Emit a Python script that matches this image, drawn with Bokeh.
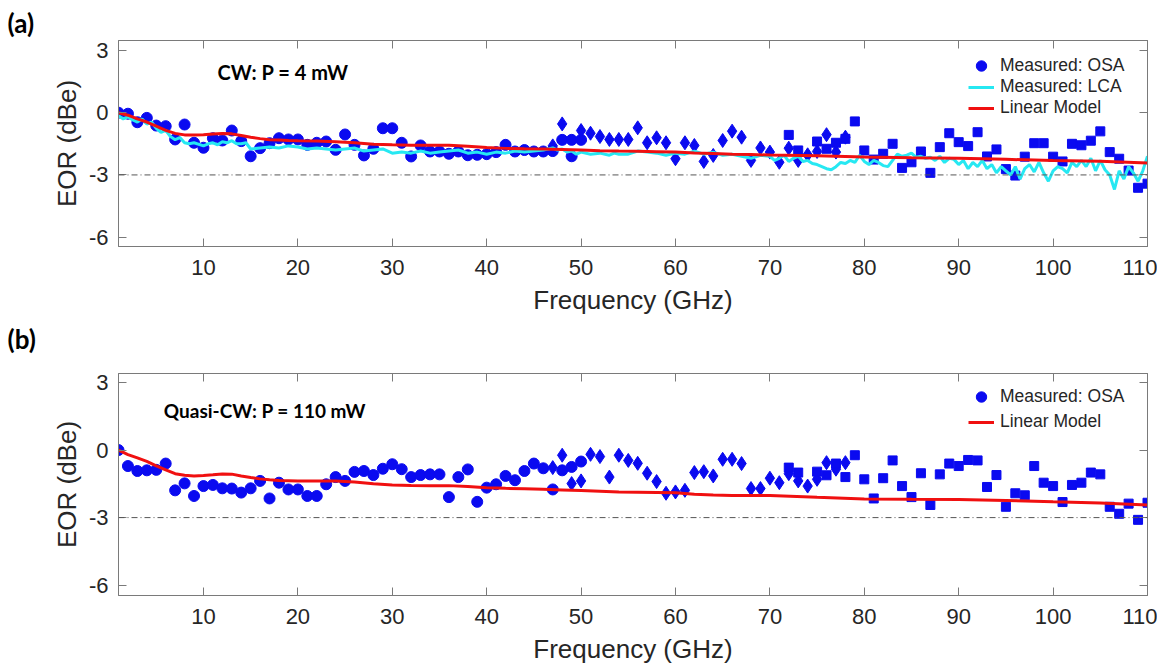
from bokeh.plotting import figure
from bokeh.models import (Range1d, FixedTicker, LinearAxis, Span, Label, Legend,
                          LegendItem, Title)
from bokeh.layouts import column
from bokeh.embed import file_html
from bokeh.resources import INLINE

# ---------------- data : panel (a) CW, P = 4 mW ----------------
A_CIRC_F = [1, 2, 3, 4, 5, 6, 7, 8, 9, 10, 11, 12, 13, 14, 15, 16, 17, 18, 19, 20,
            21, 22, 23, 24, 25, 26, 27, 28, 29, 30, 31, 32, 33, 34, 35, 36, 37, 38, 39, 40,
            41, 42, 43, 44, 45, 46, 47, 48, 49, 50, 49]
A_CIRC_V = [0.0, -0.05, -0.46, -0.25, -0.62, -0.65, -1.29, -0.57, -1.45, -1.69,
            -1.23, -1.34, -0.86, -1.37, -2.10, -1.71, -1.47, -1.23, -1.29, -1.29,
            -1.55, -1.45, -1.39, -1.79, -1.05, -1.55, -2.06, -1.74, -0.75, -0.75,
            -1.45, -2.11, -1.58, -1.87, -1.87, -1.98, -1.87, -2.05, -2.03, -2.00,
            -1.90, -1.55, -1.87, -1.80, -1.87, -1.87, -1.85, -1.31, -1.31, -1.31, -2.10]
A_DIAM_F = [47, 48, 50, 51, 52, 53, 54, 55, 56, 57, 58, 59, 60, 61, 62, 63, 64, 65, 66, 67,
            68, 69, 70, 71, 72, 73, 74, 75, 76, 77, 78]
A_DIAM_V = [-1.60, -0.54, -0.86, -0.99, -1.15, -1.29, -1.29, -1.29, -0.73, -1.45,
            -1.21, -1.45, -2.22, -1.45, -1.58, -2.35, -2.06, -1.34, -0.89, -1.18,
            -2.30, -1.70, -1.90, -2.39, -1.71, -2.30, -2.03, -1.87, -1.06, -1.90, -1.18]
A_SQ_F = [72, 73, 75, 76, 77, 78, 79, 80, 81, 82, 83, 84, 85, 86, 87, 88, 89, 90, 91, 92,
          93, 94, 95, 96, 97, 98, 99, 100, 101, 102, 103, 104, 105, 106, 107, 108, 109, 110]
A_SQ_V = [-1.07, -1.82, -1.39, -1.74, -1.45, -1.26, -0.42, -1.82, -2.26, -1.98,
          -1.50, -2.66, -2.39, -1.87, -2.90, -1.66, -0.99, -1.42, -1.61, -0.94,
          -2.11, -1.77, -2.72, -3.03, -2.12, -1.47, -1.47, -2.12, -2.35, -1.50,
          -1.57, -1.35, -0.90, -1.90, -2.22, -2.79, -3.62, -3.42]
A_LCA_F = [1, 1.5, 2, 2.5, 3, 3.5, 4, 4.5, 5, 5.5, 6, 6.5, 7, 7.5, 8, 8.5, 9, 10, 10.5, 11,
           11.5, 12, 12.5, 13, 13.5, 14, 14.5, 15, 16, 17, 18, 19, 20, 21, 22, 23, 24, 25,
           26, 27, 28, 29, 30, 31, 32, 33, 34, 35, 36, 37, 38, 39, 40, 41, 42, 43, 44, 45,
           46, 47, 47.5, 48, 48.5, 49, 49.5, 50, 51, 52, 53, 53.5, 54, 55, 56, 57, 58, 59,
           60, 61, 62, 63, 64, 65, 66, 67, 68, 69, 70, 70.5, 71, 71.5, 72, 72.5, 73, 73.5,
           74, 74.5, 75, 75.5, 76, 76.5, 77, 77.5, 78, 78.5, 79, 79.5, 80, 80.5, 81, 81.5,
           82, 82.5, 83, 83.5, 84, 84.5, 85, 85.5, 86, 86.5, 87, 87.5, 88, 88.5, 89, 89.5,
           90, 90.5, 91, 91.5, 92, 92.5, 93, 93.5, 94, 94.5, 95, 95.5, 96, 96.5, 97, 97.5,
           98, 98.5, 99, 99.5, 100, 100.5, 101, 101.5, 102, 102.5, 103, 103.5, 104, 104.5,
           105, 105.5, 106, 106.5, 107, 107.5, 108, 108.5, 109, 109.5, 110]
A_LCA_V = [-0.15, -0.30, -0.20, -0.35, -0.45, -0.30, -0.55, -0.45, -0.75, -0.95,
           -0.85, -1.15, -1.30, -1.20, -1.45, -1.50, -1.45, -1.60, -1.50, -1.45,
           -1.55, -1.40, -1.45, -1.35, -1.50, -1.50, -1.45, -1.75, -1.70, -1.65,
           -1.70, -1.60, -1.65, -1.75, -1.70, -1.75, -1.80, -1.75, -1.70, -1.85,
           -1.80, -1.75, -1.95, -1.90, -1.95, -1.85, -1.95, -1.90, -1.85, -1.80,
           -1.95, -1.90, -2.00, -1.90, -1.95, -1.85, -1.90, -1.85, -1.80, -1.70,
           -1.80, -1.75, -1.90, -1.85, -2.00, -1.90, -2.00, -1.95, -2.05, -1.95,
           -2.00, -2.00, -1.85, -1.90, -1.95, -2.05, -1.95, -2.00, -1.85, -2.00,
           -1.90, -2.05, -2.00, -2.10, -2.20, -2.05, -2.10, -2.30, -2.20, -2.05,
           -2.35, -2.20, -2.10, -2.35, -2.30, -2.45, -2.50, -2.60, -2.70, -2.75,
           -2.60, -2.40, -2.45, -2.30, -2.40, -2.05, -2.35, -2.50, -2.30, -2.40,
           -2.55, -2.60, -2.30, -2.00, -2.10, -2.05, -1.95, -2.15, -2.10, -2.20,
           -2.15, -2.30, -2.10, -2.40, -2.20, -2.25, -2.50, -2.30, -2.70, -2.40,
           -2.60, -2.30, -2.70, -2.50, -2.90, -2.60, -2.80, -3.00, -2.60, -3.20,
           -2.70, -2.50, -2.85, -2.40, -2.90, -3.30, -2.80, -2.60, -2.70, -2.90,
           -2.40, -2.60, -2.30, -2.60, -2.20, -2.80, -2.30, -2.75, -3.00, -3.70,
           -2.80, -3.20, -2.60, -2.90, -3.30, -2.80, -2.10]
A_MODEL_F = [1, 2, 3, 4, 5, 6, 7, 8, 9, 10, 11, 12, 13, 14, 15, 16, 17, 18, 19, 20, 22, 24,
             26, 28, 30, 32, 34, 36, 38, 40, 42, 44, 46, 48, 50, 52, 54, 56, 58, 60, 62, 64,
             66, 68, 70, 75, 80, 85, 90, 95, 100, 105, 110]
A_MODEL_V = [0.0, -0.12, -0.30, -0.45, -0.65, -0.85, -1.00, -1.07, -1.08, -1.06,
             -1.03, -1.00, -1.02, -1.10, -1.18, -1.25, -1.30, -1.32, -1.34, -1.35,
             -1.36, -1.40, -1.45, -1.52, -1.55, -1.57, -1.57, -1.57, -1.62, -1.68,
             -1.72, -1.74, -1.75, -1.77, -1.80, -1.83, -1.85, -1.86, -1.88, -1.90,
             -1.94, -1.97, -2.00, -2.02, -2.04, -2.08, -2.13, -2.17, -2.20, -2.25,
             -2.30, -2.34, -2.42]

# ---------------- data : panel (b) Quasi-CW, P = 110 mW ----------------
B_CIRC_F = [1, 2, 3, 4, 5, 6, 7, 8, 9, 10, 11, 12, 13, 14, 15, 16, 17, 18, 19, 20,
            21, 22, 23, 24, 25, 26, 27, 28, 29, 30, 31, 32, 33, 34, 35, 36, 37, 38, 39, 40,
            41, 42, 43, 44, 45, 46, 47, 48, 49, 50]
B_CIRC_V = [0.0, -0.71, -0.93, -0.90, -0.88, -0.60, -1.79, -1.48, -2.04, -1.60,
            -1.55, -1.70, -1.71, -1.89, -1.70, -1.37, -2.15, -1.45, -1.75, -1.75,
            -2.04, -2.04, -1.52, -1.20, -1.37, -0.97, -0.93, -1.11, -0.83, -0.63,
            -0.85, -1.20, -1.11, -1.08, -1.08, -2.09, -1.20, -0.86, -2.30, -1.67,
            -1.52, -1.15, -1.34, -0.93, -0.60, -0.81, -1.75, -0.90, -0.75, -0.51]
B_DIAM_F = [47, 48, 49, 50, 51, 52, 53, 54, 55, 56, 57, 58, 59, 60, 61, 62, 63, 64, 65, 66,
            67, 68, 69, 70, 71, 72, 73, 74, 75, 76, 77, 78]
B_DIAM_V = [-0.78, -0.23, -1.49, -1.37, -0.19, -0.29, -1.20, -0.23, -0.46, -0.59,
            -1.03, -1.40, -1.92, -1.86, -1.79, -1.00, -0.96, -1.15, -0.41, -0.41,
            -0.60, -1.71, -1.71, -1.25, -1.45, -1.05, -1.37, -1.60, -1.30, -0.56,
            -0.85, -0.56]
B_SQ_F = [72, 73, 75, 76, 77, 78, 79, 80, 81, 82, 83, 84, 85, 86, 87, 88, 89, 90, 91, 92,
          93, 94, 95, 96, 97, 98, 99, 100, 101, 102, 103, 104, 105, 106, 107, 108, 109, 110]
B_SQ_V = [-0.78, -1.00, -0.96, -1.12, -0.60, -1.20, -0.23, -1.30, -2.15, -1.25,
          -0.46, -1.60, -2.09, -1.03, -2.44, -1.08, -0.60, -0.71, -0.44, -0.46,
          -1.64, -1.11, -2.52, -1.92, -2.01, -0.71, -1.45, -1.60, -2.31, -1.55,
          -1.45, -1.00, -1.08, -2.52, -2.83, -2.38, -3.10, -2.34]
B_MODEL_F = [1, 2, 3, 4, 5, 6, 7, 8, 9, 10, 11, 12, 13, 14, 15, 16, 17, 18, 20, 22, 24, 26,
             28, 30, 32, 34, 36, 38, 40, 42, 44, 46, 48, 50, 52, 54, 56, 58, 60, 62, 64, 66,
             68, 70, 75, 80, 85, 90, 95, 100, 105, 110]
B_MODEL_V = [0.0, -0.20, -0.35, -0.50, -0.70, -0.88, -1.05, -1.12, -1.15, -1.13,
             -1.10, -1.06, -1.07, -1.15, -1.22, -1.28, -1.32, -1.35, -1.37, -1.38,
             -1.38, -1.42, -1.50, -1.55, -1.57, -1.58, -1.58, -1.62, -1.67, -1.70,
             -1.72, -1.74, -1.77, -1.80, -1.83, -1.86, -1.87, -1.88, -1.90, -1.96,
             -2.00, -2.02, -2.02, -2.02, -2.10, -2.17, -2.19, -2.20, -2.24, -2.30,
             -2.35, -2.44]

X_TICKS = [10, 20, 30, 40, 50, 60, 70, 80, 90, 100, 110]
Y_TICKS = [-6, -3, 0, 3]
Y_TICK_LABELS = {-6: "-6", -3: "-3", 0: "0", 3: "3"}

BLUE = "#0a0af0"
CYAN = "#26e8f2"
RED = "#f01010"
AX = "#7a7a7a"
TXT = "#262626"
FONT = "Liberation Sans"


def panel_title(text, standoff, valign):
    t = Title(text=text, align="left", offset=-111, standoff=standoff,
              vertical_align=valign, text_font="Lato", text_font_style="bold",
              text_font_size="26px", text_color="black")
    return t


def make_fig(height, top, bottom, yr):
    p = figure(width=1157, height=height, x_range=Range1d(1, 110), y_range=Range1d(*yr),
               output_backend="svg", toolbar_location=None,
               min_border_left=118, min_border_right=10, min_border_top=top,
               min_border_bottom=bottom, x_axis_location=None, y_axis_location=None)
    p.xgrid.visible = False
    p.ygrid.visible = False
    p.outline_line_color = AX
    p.outline_line_width = 1
    p.background_fill_color = "white"
    p.border_fill_color = "white"

    xb = LinearAxis(ticker=FixedTicker(ticks=X_TICKS), axis_label="Frequency (GHz)")
    yl = LinearAxis(ticker=FixedTicker(ticks=Y_TICKS), axis_label="EOR (dBe)",
                    major_label_overrides=Y_TICK_LABELS)
    xt = LinearAxis(ticker=FixedTicker(ticks=X_TICKS),
                    major_label_overrides={t: "" for t in X_TICKS})
    yr_ax = LinearAxis(ticker=FixedTicker(ticks=Y_TICKS),
                       major_label_overrides={t: "" for t in Y_TICKS})
    for ax in (xb, yl, xt, yr_ax):
        ax.axis_line_color = AX
        ax.major_tick_line_color = AX
        ax.major_tick_in = 8
        ax.major_tick_out = 0
        ax.minor_tick_line_color = None
        ax.major_label_text_font = FONT
        ax.major_label_text_color = TXT
        ax.major_label_text_font_size = "22px"
        ax.axis_label_text_font = FONT
        ax.axis_label_text_font_size = "26px"
        ax.axis_label_text_font_style = "normal"
        ax.axis_label_text_color = TXT
    for ax in (xt, yr_ax):
        ax.major_label_text_font_size = "2px"
        ax.major_label_standoff = 0
    xb.major_label_standoff = 13
    xb.axis_label_standoff = 7
    yl.major_label_standoff = 10
    yl.axis_label_standoff = 4
    p.add_layout(xb, "below")
    p.add_layout(yl, "left")
    p.add_layout(xt, "above")
    p.add_layout(yr_ax, "right")

    p.add_layout(Span(location=-3, dimension="width", line_color="#555555",
                      line_width=1, line_dash="6 3 1 3"))
    return p


def markers(p, cf, cv, df, dv, sf, sv):
    rc = p.scatter(cf, cv, marker="circle", size=11, fill_color=BLUE, line_color=BLUE)
    p.scatter(df, dv, marker="diamond", size=14, fill_color=BLUE, line_color=BLUE)
    p.scatter(sf, sv, marker="square", size=9, fill_color=BLUE, line_color=BLUE)
    return rc


def make_legend(items, loc, glyph_h):
    lg = Legend(items=items, location=loc)
    lg.label_text_font = FONT
    lg.label_text_font_size = "17.5px"
    lg.label_text_color = TXT
    lg.border_line_alpha = 0
    lg.background_fill_alpha = 0
    lg.padding = 0
    lg.margin = 0
    lg.spacing = 0
    lg.glyph_width = 26
    lg.glyph_height = glyph_h
    lg.label_height = 18
    lg.label_standoff = 6
    return lg


# ---------- panel (a) ----------
pa = make_fig(368, 40, 122, (-6.45, 3.48))
pa.add_layout(panel_title("(a)", 4, "bottom"), "above")
pa.add_layout(panel_title("(b)", 10, "top"), "below")
rc_a = markers(pa, A_CIRC_F, A_CIRC_V, A_DIAM_F, A_DIAM_V, A_SQ_F, A_SQ_V)
r_lca = pa.line(A_LCA_F, A_LCA_V, line_color=CYAN, line_width=3)
r_mod_a = pa.line(A_MODEL_F, A_MODEL_V, line_color=RED, line_width=3)
pa.add_layout(make_legend([LegendItem(label="Measured: OSA", renderers=[rc_a])],
                          (850, 167), 27))
pa.add_layout(make_legend([LegendItem(label="Measured: LCA", renderers=[r_lca]),
                           LegendItem(label="Linear Model", renderers=[r_mod_a])],
                          (850, 128), 18))
pa.add_layout(Label(x=11.5, y=1.94, text="CW: P = 4 mW", text_font="Lato",
                    text_font_style="bold", text_font_size="20px", text_color="black",
                    text_baseline="middle"))

# ---------- panel (b) ----------
pb = make_fig(299, 5, 72, (-6.46, 3.40))
rc_b = markers(pb, B_CIRC_F, B_CIRC_V, B_DIAM_F, B_DIAM_V, B_SQ_F, B_SQ_V)
r_mod_b = pb.line(B_MODEL_F, B_MODEL_V, line_color=RED, line_width=3)
pb.add_layout(make_legend([LegendItem(label="Measured: OSA", renderers=[rc_b])],
                          (850, 185), 27))
pb.add_layout(make_legend([LegendItem(label="Linear Model", renderers=[r_mod_b])],
                          (850, 163), 18))
pb.add_layout(Label(x=5.8, y=1.74, text="Quasi-CW: P = 110 mW", text_font="Lato",
                    text_font_style="bold", text_font_size="19px", text_color="black",
                    text_baseline="middle"))

layout = column(pa, pb, spacing=0)
open("out.html", "w").write(file_html(layout, INLINE))
